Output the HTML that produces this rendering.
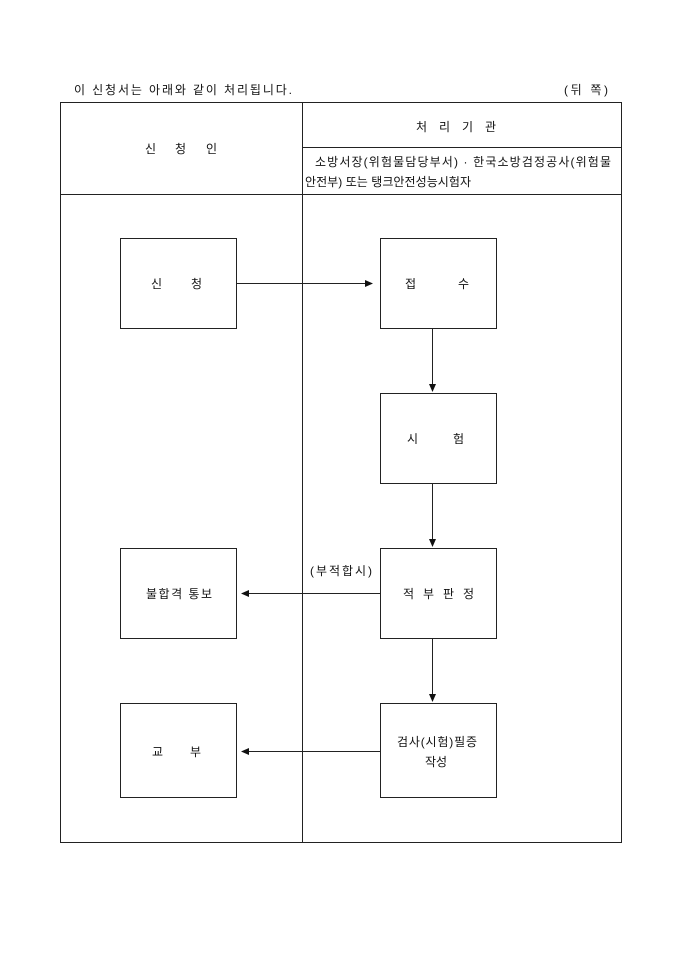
<!DOCTYPE html>
<html><head><meta charset="utf-8"><style>
html,body{margin:0;padding:0;background:#fff;}
svg{display:block;font-family:"Liberation Sans","Noto Sans CJK KR","NanumGothic",sans-serif;}
text{fill:#111;font-size:12px;}
</style></head><body>
<svg width="680" height="962" viewBox="0 0 680 962" xmlns="http://www.w3.org/2000/svg">
<defs><marker id="a" markerWidth="8" markerHeight="8" refX="7" refY="4" orient="auto" markerUnits="userSpaceOnUse"><path d="M0,0.5 L8,4 L0,7.5 Z" fill="#111"/></marker></defs>
<text x="74" y="94" textLength="218" lengthAdjust="spacing">이 신청서는 아래와 같이 처리됩니다.</text>
<text x="564" y="94" textLength="44" lengthAdjust="spacing">(뒤 쪽)</text>
<g fill="none" stroke="#222" stroke-width="1">
<rect x="60.5" y="102.5" width="561" height="740"/>
<line x1="302.5" y1="102" x2="302.5" y2="842"/>
<line x1="302" y1="147.5" x2="622" y2="147.5"/>
<line x1="60" y1="194.5" x2="622" y2="194.5"/>
<rect x="120.5" y="238.5" width="116" height="90"/>
<rect x="380.5" y="238.5" width="116" height="90"/>
<rect x="380.5" y="393.5" width="116" height="90"/>
<rect x="120.5" y="548.5" width="116" height="90"/>
<rect x="380.5" y="548.5" width="116" height="90"/>
<rect x="120.5" y="703.5" width="116" height="94"/>
<rect x="380.5" y="703.5" width="116" height="94"/>
<line x1="236" y1="283.5" x2="372" y2="283.5" marker-end="url(#a)"/>
<line x1="432.5" y1="328" x2="432.5" y2="391" marker-end="url(#a)"/>
<line x1="432.5" y1="483" x2="432.5" y2="546" marker-end="url(#a)"/>
<line x1="432.5" y1="638" x2="432.5" y2="701" marker-end="url(#a)"/>
<line x1="380" y1="593.5" x2="242" y2="593.5" marker-end="url(#a)"/>
<line x1="380" y1="751.5" x2="242" y2="751.5" marker-end="url(#a)"/>
</g>
<text x="145" y="153">신</text><text x="175" y="153">청</text><text x="206" y="153">인</text>
<text x="416" y="131">처</text><text x="439" y="131">리</text><text x="462" y="131">기</text><text x="485" y="131">관</text>
<text x="315" y="166" textLength="296" lengthAdjust="spacing">소방서장(위험물담당부서) · 한국소방검정공사(위험물</text>
<text x="305" y="186" textLength="166" lengthAdjust="spacing">안전부) 또는 탱크안전성능시험자</text>
<text x="151" y="288">신</text><text x="191" y="288">청</text>
<text x="405" y="288">접</text><text x="458" y="288">수</text>
<text x="407" y="443">시</text><text x="453" y="443">험</text>
<text x="146" y="598" textLength="66" lengthAdjust="spacing">불합격 통보</text>
<text x="403" y="598" textLength="71" lengthAdjust="spacing">적 부  판 정</text>
<text x="310" y="575" textLength="62" lengthAdjust="spacing">(부적합시)</text>
<text x="152" y="756">교</text><text x="190" y="756">부</text>
<text x="397" y="746" textLength="80" lengthAdjust="spacing">검사(시험)필증</text>
<text x="425" y="766">작성</text>
</svg>
</body></html>
